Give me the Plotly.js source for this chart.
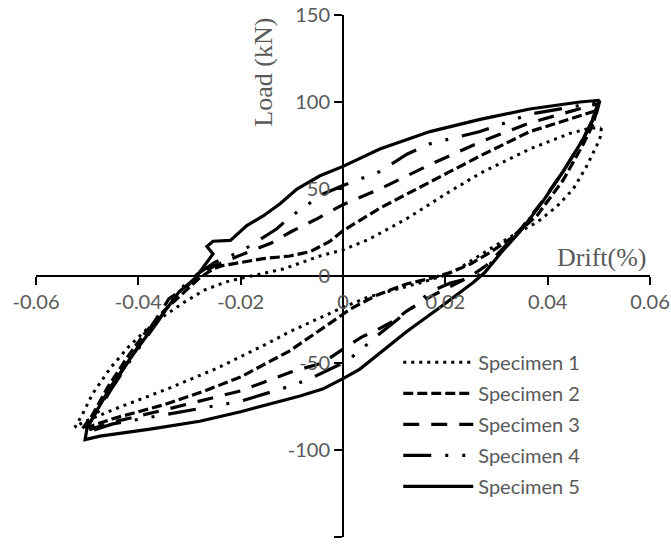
<!DOCTYPE html>
<html>
<head>
<meta charset="utf-8">
<script src="https://cdn.plot.ly/plotly-3.0.1.min.js"></script>
<style>html,body{margin:0;padding:0;background:#fff;}#chart{width:671px;height:546px;}</style>
</head>
<body>
<div id="chart"></div>
<script>
// ---- data ----
const seriesNames = ["Specimen 1", "Specimen 2", "Specimen 3", "Specimen 4", "Specimen 5"];

const spec1Drift = [0.0505, 0.0503, 0.0496, 0.0476, 0.045, 0.0418, 0.038, 0.033, 0.0287, 0.0248, 0.0225, 0.0200, 0.015, 0.01, 0.005, 0, -0.0104, -0.0149, -0.0246, -0.0344, -0.0442, -0.0508, -0.0524, -0.051, -0.049, -0.0455, -0.042, -0.0385, -0.035, -0.031, -0.027, -0.023, -0.0195, -0.0117, -0.0045, 0, 0.005, 0.0125, 0.02, 0.0268, 0.0365, 0.0444, 0.0483, 0.0505];
const spec1Load  = [85, 80, 75, 63, 50, 40, 31, 23, 15.5, 8, 4, 0.5, -4, -8, -12, -18, -32, -39, -53, -65, -76, -84, -87, -80, -68, -53, -41, -31, -23, -15, -8, -3.5, -1, 4, 11.5, 15, 21, 33, 47, 59, 73, 82, 85, 85];

const spec2Drift = [0.0495, 0.049, 0.047, 0.043, 0.038, 0.033, 0.029, 0.025, 0.021, 0.0176, 0.0124, 0.0092, 0.0066, 0.0014, 0, -0.0104, -0.02, -0.027, -0.035, -0.045, -0.051, -0.049, -0.046, -0.042, -0.0385, -0.035, -0.031, -0.028, -0.0254, -0.0235, -0.0156, -0.0104, -0.0064, -0.0025, 0, 0.0072, 0.017, 0.0268, 0.0365, 0.0463, 0.0495];
const spec2Load  = [95, 88, 76, 55, 35, 22, 14, 7, 2, -1, -4.6, -8, -11, -19, -22, -43, -58, -66, -74, -82, -88, -80, -64, -46, -32, -20, -9, -1, 4, 6, 10, 11.5, 14, 20, 26, 39, 54, 69, 83, 92, 95];

const spec3Drift = [0.0498, 0.049, 0.047, 0.043, 0.039, 0.035, 0.031, 0.028, 0.025, 0.021, 0.017, 0.0125, 0.0098, 0.006, 0.0037, 0, -0.004, -0.01, -0.02, -0.035, -0.045, -0.0503, -0.049, -0.0455, -0.041, -0.037, -0.034, -0.0305, -0.0285, -0.025, -0.02, -0.014, -0.0098, -0.005, 0, 0.0072, 0.017, 0.0268, 0.0365, 0.0463, 0.0498];
const spec3Load  = [99, 92, 79, 60, 43, 28, 15, 6, 0, -6, -12, -20, -26, -32, -35, -42, -50, -55, -66, -77, -84, -89, -82, -65, -45, -27, -13, -6, 0, 6, 12, 19, 26, 33, 41, 50, 64, 77, 88, 96, 99];

const spec4Drift = [0.050, 0.0493, 0.047, 0.043, 0.039, 0.035, 0.031, 0.0285, 0.0264, 0.021, 0.017, 0.0145, 0.0098, 0.006, 0.0033, 0.0007, -0.0064, -0.01, -0.02, -0.035, -0.045, -0.0502, -0.049, -0.0455, -0.041, -0.0364, -0.032, -0.0285, -0.025, -0.02, -0.013, -0.0107, -0.0084, -0.004, 0, 0.0072, 0.0125, 0.017, 0.0268, 0.0365, 0.0463, 0.050];
const spec4Load  = [100, 93, 79, 60, 43, 27, 14, 6, 0, -4, -9, -16, -27, -36, -43, -49, -59, -63, -72, -80, -85, -90, -84, -66, -46, -27, -8, 1, 8, 14, 27, 33, 38, 47, 52, 60, 70, 76, 83, 93, 98, 100];

const spec5Drift = [0.0502, 0.0496, 0.047, 0.043, 0.039, 0.035, 0.031, 0.0277, 0.0255, 0.019, 0.0124, 0.0033, 0, -0.004, -0.0084, -0.02, -0.028, -0.0377, -0.0475, -0.0504, -0.0500, -0.0475, -0.0455, -0.041, -0.0364, -0.032, -0.029, -0.0266, -0.0254, -0.0266, -0.0254, -0.022, -0.0188, -0.0156, -0.0123, -0.009, -0.0045, 0, 0.0072, 0.017, 0.0268, 0.0365, 0.0463, 0.0502];
const spec5Load  = [101, 94, 79, 60, 42.6, 27, 13.8, 2, -3.6, -18, -32, -53.5, -59, -65, -69, -78, -83.5, -88, -92, -94, -87, -74, -64, -45, -26.5, -9, -1.7, 8, 12.7, 17, 20, 20.5, 29, 34.5, 41.5, 50, 57.6, 63, 73, 83, 90, 96, 100, 101];

const xTickVals = [-0.06, -0.04, -0.02, 0, 0.02, 0.04, 0.06];
const xTickText = ["-0.06", "-0.04", "-0.02", "0", "0.02", "0.04", "0.06"];
const yTickVals = [-150, -100, -50, 0, 50, 100, 150];
const yTickText = ["-150", "-100", "-50", "0", "50", "100", "150"];

// ---- styles ----
const dashes = ["3px,5px", "10px,4px", "16px,12px", "28px,14px,3px,14px,3px,14px", "solid"];
const widths = [3, 3.2, 3.2, 3.2, 3.2];
const xs = [spec1Drift, spec2Drift, spec3Drift, spec4Drift, spec5Drift];
const ys = [spec1Load, spec2Load, spec3Load, spec4Load, spec5Load];

const traces = seriesNames.map((n, i) => ({
  type: "scatter", mode: "lines", name: n, x: xs[i], y: ys[i], legendgroup: "g" + i,
  line: {color: "#000", width: widths[i], dash: dashes[i]}
}));

const tickFont = {family: "Lato, 'Open Sans', sans-serif", size: 20, color: "#595959"};
const layout = {
  width: 671, height: 546,
  margin: {l: 36, r: 21, t: 15, b: 9},
  paper_bgcolor: "#fff", plot_bgcolor: "#fff",
  showlegend: true,
  legend: {x: 0.59, y: 0.372, xanchor: "left", yanchor: "top", bgcolor: "rgba(0,0,0,0)", tracegroupgap: 2,
           font: {family: "Lato, 'Open Sans', sans-serif", size: 20, color: "#595959"}, itemwidth: 70},
  xaxis: {range: [-0.06, 0.06], anchor: "free", position: 0.5, showgrid: false, zeroline: false,
          showline: true, linecolor: "#000", linewidth: 2, ticks: "outside", ticklen: 8, tickwidth: 2, tickcolor: "#000",
          tickvals: xTickVals, ticktext: xTickText, tickfont: tickFont, automargin: false},
  yaxis: {range: [-150, 150], anchor: "free", position: 0.5, showgrid: false, zeroline: false,
          showline: true, linecolor: "#000", linewidth: 2, ticks: "outside", ticklen: 8, tickwidth: 2, tickcolor: "#000",
          tickvals: yTickVals, ticktext: yTickText, tickfont: tickFont, automargin: false},
  annotations: [
    {text: "Load (kN)", xref: "paper", yref: "paper", x: 0.371, y: 0.891, textangle: -90, showarrow: false,
     xanchor: "center", yanchor: "middle", font: {family: "'Liberation Serif', 'Times New Roman', serif", size: 26, color: "#595959"}},
    {text: "Drift(%)", xref: "paper", yref: "paper", x: 0.922, y: 0.536, showarrow: false,
     xanchor: "center", yanchor: "middle", font: {family: "'Liberation Serif', 'Times New Roman', serif", size: 26, color: "#595959"}}
  ]
};
Plotly.newPlot("chart", traces, layout, {staticPlot: true, displayModeBar: false});
</script>
</body>
</html>
